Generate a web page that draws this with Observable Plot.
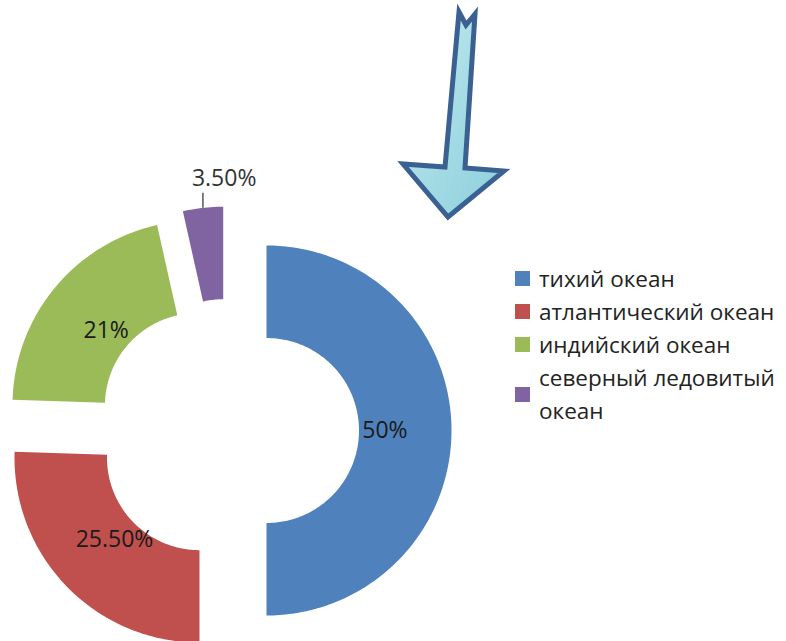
<!DOCTYPE html>
<html>
<head>
<meta charset="utf-8">
<script src="https://cdn.jsdelivr.net/npm/d3@7"></script>
<script src="https://cdn.jsdelivr.net/npm/@observablehq/plot@0.6"></script>
<style>
  html, body { margin: 0; padding: 0; background: #fff; overflow: hidden; }
  #wrap { position: relative; width: 786px; height: 641px; font-family: "Open Sans", sans-serif; }
  #chart, #arrow { position: absolute; left: 0; top: 0; }
  #legend { position: absolute; left: 515px; top: 262px; color: #222; font-size: 22.5px; line-height: 33px; }
  .item { display: flex; align-items: center; }
  .sw { width: 15px; height: 15px; margin-right: 9px; flex: none; }
</style>
</head>
<body>
<div id="wrap">
  <div id="chart"></div>
  <svg id="arrow" width="786" height="641">
    <defs>
      <linearGradient id="ag" x1="0" y1="0" x2="1" y2="1">
        <stop offset="0" stop-color="#c9eef3"/>
        <stop offset="0.5" stop-color="#a6dce5"/>
        <stop offset="1" stop-color="#8ccfdb"/>
      </linearGradient>
    </defs>
    <polygon points="459,12 466,25 475,14 465,168 504,171 448,217 403,164 445,167"
      fill="url(#ag)" stroke="#3b6192" stroke-width="5" stroke-linejoin="miter"/>
  </svg>
  <div id="legend"></div>
</div>
<script>
// ---- data ----
const categories = ["тихий океан", "атлантический океан", "индийский океан", "северный ледовитый океан"];
const shares = [50, 25.5, 21, 3.5];
const labels = ["50%", "25.50%", "21%", "3.50%"];
const colors = ["#4F81BD", "#C0504D", "#9BBB59", "#8064A2"];

// ---- layout (pixels) ----
const W = 786, H = 641;
const CX = 227, CY = 430;      // donut centre
const R = 185, HOLE = 0.5;     // outer radius, hole fraction
const EXPLODE = 39;            // explosion distance
const LABEL_R = 0.64;          // label radius fraction

const total = d3.sum(shares);
let acc = 0;
const slices = shares.map((v, i) => {
  const a0 = acc / total * 2 * Math.PI;
  acc += v;
  const a1 = acc / total * 2 * Math.PI;
  const mid = (a0 + a1) / 2;
  const ox = EXPLODE * Math.sin(mid), oy = EXPLODE * Math.cos(mid);
  return {cat: categories[i], label: labels[i], value: v, a0, a1, mid, ox, oy};
});

// polygon points for each slice (y up)
const pts = [];
for (const s of slices) {
  const n = Math.max(4, Math.ceil((s.a1 - s.a0) / (Math.PI / 180)));
  for (let k = 0; k <= n; k++) {
    const a = s.a0 + (s.a1 - s.a0) * k / n;
    pts.push({cat: s.cat, x: s.ox + R * Math.sin(a), y: s.oy + R * Math.cos(a)});
  }
  for (let k = n; k >= 0; k--) {
    const a = s.a0 + (s.a1 - s.a0) * k / n;
    pts.push({cat: s.cat, x: s.ox + R * HOLE * Math.sin(a), y: s.oy + R * HOLE * Math.cos(a)});
  }
}

const inside = slices.filter(s => s.value >= 5).map(s => ({
  label: s.label,
  x: s.ox + R * LABEL_R * Math.sin(s.mid),
  y: s.oy + R * LABEL_R * Math.cos(s.mid)
}));
const outside = slices.filter(s => s.value < 5).map(s => {
  const x = s.ox + R * Math.sin(s.mid), y = s.oy + R * Math.cos(s.mid);
  return {label: s.label, x1: x, y1: y, x2: x, y2: y + 15};
});

const chart = Plot.plot({
  width: W, height: H,
  marginTop: 0, marginRight: 0, marginBottom: 0, marginLeft: 0,
  x: {domain: [-CX, W - CX], axis: null},
  y: {domain: [-(H - CY), CY], axis: null},
  color: {domain: categories, range: colors},
  style: {fontFamily: "Open Sans, sans-serif", background: "transparent"},
  marks: [
    Plot.line(pts, {x: "x", y: "y", z: "cat", fill: "cat", stroke: "none", curve: "linear-closed"}),
    Plot.text(inside, {x: "x", y: "y", text: "label", fontSize: 23, fill: "#1a1a1a"}),
    Plot.link(outside, {x1: "x1", y1: "y1", x2: "x2", y2: "y2", stroke: "#555", strokeWidth: 1.5}),
    Plot.text(outside, {x: "x2", y: "y2", text: "label", fontSize: 23, fill: "#333", textAnchor: "start", dx: -11, dy: -14})
  ]
});
document.getElementById("chart").appendChild(chart);

// legend
function wrap(t, max) {
  const words = t.split(" "), lines = [];
  let cur = "";
  for (const w of words) {
    if (cur && (cur + " " + w).length > max) { lines.push(cur); cur = w; }
    else cur = cur ? cur + " " + w : w;
  }
  lines.push(cur);
  return lines;
}
const leg = document.getElementById("legend");
categories.forEach((c, i) => {
  const row = document.createElement("div");
  row.className = "item";
  const sw = document.createElement("div");
  sw.className = "sw";
  sw.style.background = colors[i];
  const tx = document.createElement("div");
  wrap(c, 19).forEach((l, j) => {
    if (j) tx.appendChild(document.createElement("br"));
    tx.appendChild(document.createTextNode(l));
  });
  row.appendChild(sw); row.appendChild(tx);
  leg.appendChild(row);
});
</script>
</body>
</html>
